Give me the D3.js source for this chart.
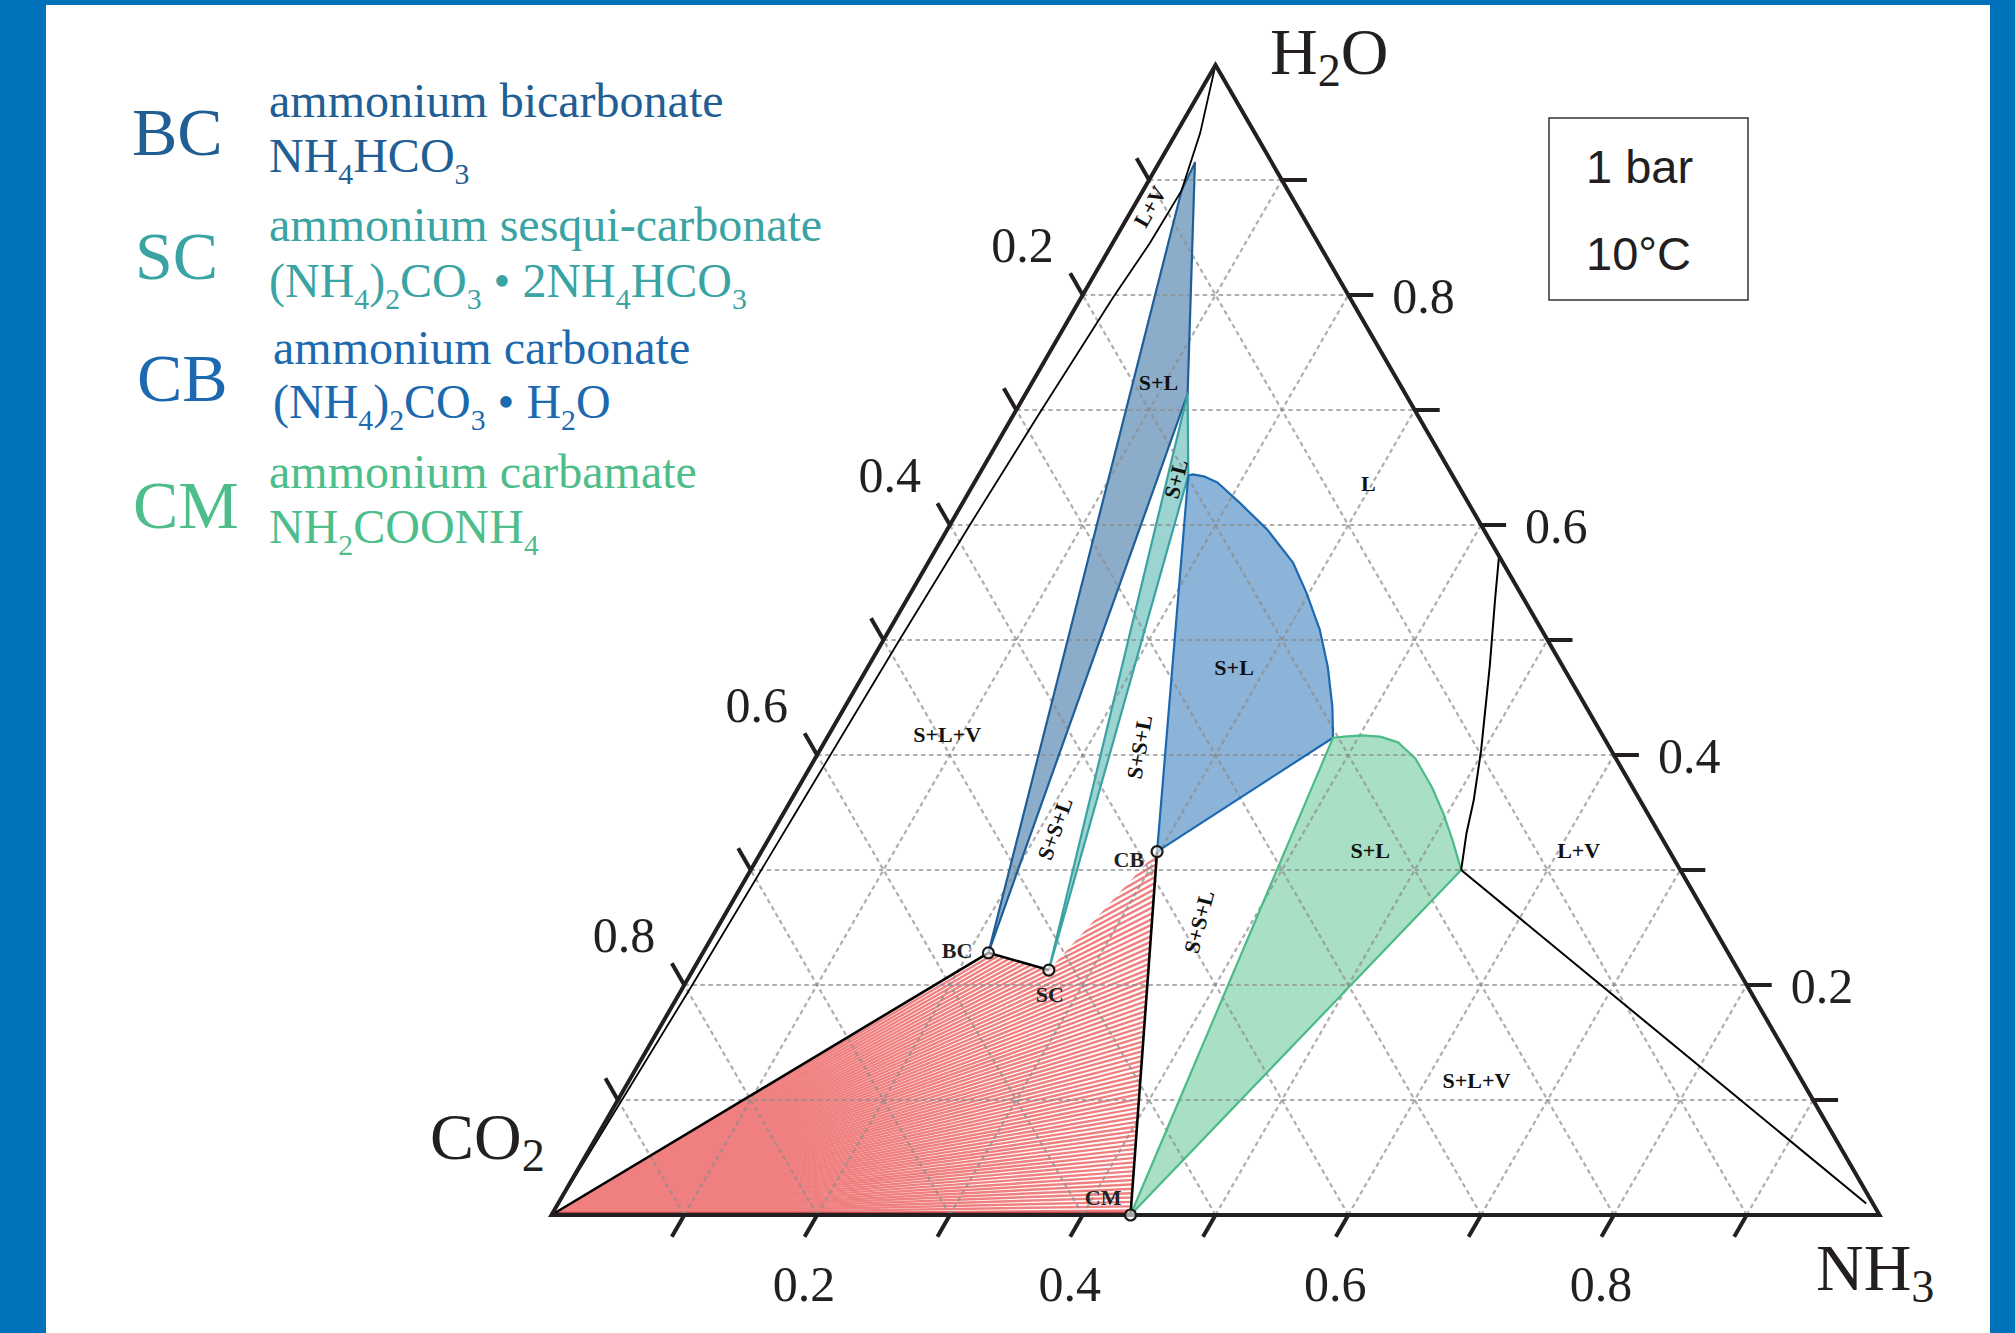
<!DOCTYPE html>
<html>
<head>
<meta charset="utf-8">
<script src="https://cdn.jsdelivr.net/npm/d3@7"></script>
<style>
    body { margin: 0; background: #fff; }
    svg { display: block; }
</style>
</head>
<body>
<div id="chart"></div>
<script>
// all compositions are mass fractions, as [NH3, H2O] (CO2 = 1 - NH3 - H2O)
var compoundNames = ["BC", "SC", "CB", "CM"];
var compoundNH3 = [0.215, 0.268, 0.298, 0.436];
var compoundH2O = [0.228, 0.213, 0.316, 0.000];

var bcRegion = [[0.215, 0.228], [0.029, 0.891], [0.027, 0.915], [0.122, 0.714]];
var scRegion = [[0.268, 0.213], [0.122, 0.714], [0.158, 0.643]];
var cbRegion = [[0.298, 0.316], [0.158, 0.643], [0.161, 0.644], [0.171, 0.642], [0.183, 0.637],
    [0.209, 0.619], [0.241, 0.596], [0.275, 0.567], [0.298, 0.541], [0.324, 0.509],
    [0.346, 0.477], [0.367, 0.442], [0.381, 0.415]];
var cmRegion = [[0.436, 0.000], [0.381, 0.415], [0.389, 0.416], [0.402, 0.417], [0.416, 0.416],
    [0.432, 0.411], [0.452, 0.397], [0.477, 0.372], [0.498, 0.348], [0.517, 0.324], [0.535, 0.300]];
var solidRegion = [[0, 0], [0.215, 0.228], [0.268, 0.213], [0.298, 0.316], [0.436, 0]];

var lvLeft = [[0, 1], [0.018, 0.941], [0.029, 0.891], [0.028, 0.845], [0.024, 0.798], [0.019, 0.70],
    [0.015, 0.60], [0.012, 0.50], [0.009, 0.35], [0.006, 0.20], [0.003, 0.10], [0, 0]];
var lvRight = [[0.535, 0.300], [0.523, 0.332], [0.514, 0.361], [0.498, 0.404], [0.468, 0.477],
    [0.443, 0.535], [0.427, 0.573]];
var vapourLine = [[0.535, 0.300], [0.985, 0.010]];
var tieLines = [
    [[0, 0], [0.215, 0.228]],
    [[0.215, 0.228], [0.268, 0.213]],
    [[0.298, 0.316], [0.436, 0.000]]
];

var gridValues = [0.1, 0.2, 0.3, 0.4, 0.5, 0.6, 0.7, 0.8, 0.9];
var tickLabels = [0.2, 0.4, 0.6, 0.8];

var regionLabels = ["L+V", "S+L", "S+L", "L", "S+L", "S+L+V", "S+S+L", "S+S+L", "S+S+L", "S+L", "L+V", "S+L+V"];
var regionLabelNH3 = [0.012, 0.095, 0.150, 0.297, 0.276, 0.089, 0.211, 0.239, 0.360, 0.458, 0.615, 0.638];
var regionLabelH2O = [0.877, 0.724, 0.640, 0.636, 0.476, 0.418, 0.336, 0.407, 0.255, 0.317, 0.317, 0.117];
var regionLabelAngle = [-60, 0, -75, 0, 0, 0, -70, -80, -75, 0, 0, 0];

var legendCodes = ["BC", "SC", "CB", "CM"];
var legendNames = ["ammonium bicarbonate", "ammonium sesqui-carbonate", "ammonium carbonate", "ammonium carbamate"];
var legendFormulas = ["NH_4HCO_3", "(NH_4)_2CO_3 \u2022 2NH_4HCO_3", "(NH_4)_2CO_3 \u2022 H_2O", "NH_2COONH_4"];

// ---- styles / layout
var W = 2015, H = 1333;
var ink = "#231f20";
var frameBlue = "#0071bb";
var legendColors = ["#215e93", "#3aa3a4", "#1d69af", "#4dbd89"];
var legendPos = [
    {code: [132, 155], x: 269, l1: 117, l2: 172},
    {code: [135, 279], x: 269, l1: 241, l2: 297},
    {code: [137, 401], x: 273, l1: 364, l2: 418},
    {code: [133, 528], x: 269, l1: 488, l2: 543}
];
var compoundLabelOffset = [
    {dx: -16, dy: 5, anchor: "end"},
    {dx: 1, dy: 32, anchor: "middle"},
    {dx: -13, dy: 15, anchor: "end"},
    {dx: -9, dy: -10, anchor: "end"}
];

var svg = d3.select("#chart").append("svg")
    .attr("width", W)
    .attr("height", H);

svg.append("rect").attr("width", W).attr("height", H).attr("fill", "#fff");
svg.append("rect").attr("x", 0).attr("y", 0).attr("width", 46).attr("height", H).attr("fill", frameBlue);
svg.append("rect").attr("x", 0).attr("y", 0).attr("width", W).attr("height", 5).attr("fill", frameBlue);
svg.append("rect").attr("x", 1990).attr("y", 0).attr("width", W - 1990).attr("height", H).attr("fill", frameBlue);

// ternary projection: bottom axis NH3, right axis H2O, left axis CO2
var x = d3.scaleLinear().domain([0, 1]).range([551.5, 1879.5]);
var y = d3.scaleLinear().domain([0, 1]).range([1215, 65]);

function px(d) {
    return [x(d[0] + d[1] / 2), y(d[1])];
}

var line = d3.line()
    .x(function (d) { return px(d)[0]; })
    .y(function (d) { return px(d)[1]; });

function closed(pts) {
    return line(pts) + "Z";
}

// sub-script helper: "_4" means a lowered, smaller 4
function formula(sel, str, size, subScale, shift) {
    var parts = str.split(/(_\d)/);
    var lowered = false;
    parts.forEach(function (p) {
        if (!p) return;
        if (p[0] === "_") {
            sel.append("tspan")
                .attr("font-size", size * subScale)
                .attr("dy", lowered ? 0 : shift)
                .text(p.slice(1));
            lowered = true;
        } else {
            sel.append("tspan")
                .attr("dy", lowered ? -shift : 0)
                .text(p);
            lowered = false;
        }
    });
}

// ---- red fan hatching of the solid (S+S+V) area
svg.append("clipPath").attr("id", "solidClip")
    .append("path").attr("d", closed(solidRegion));

var corner = px([0, 0]);
var bcPt = px([compoundNH3[0], compoundH2O[0]]);
var maxAngle = Math.atan2(corner[1] - bcPt[1], bcPt[0] - corner[0]);
var nFan = 72;
var fan = svg.append("g").attr("clip-path", "url(#solidClip)");
for (var i = 0; i <= nFan; i++) {
    var a = maxAngle * i / nFan;
    fan.append("line")
        .attr("x1", corner[0])
        .attr("y1", corner[1])
        .attr("x2", corner[0] + 900 * Math.cos(a))
        .attr("y2", corner[1] - 900 * Math.sin(a))
        .attr("stroke", "#f08080")
        .attr("stroke-width", 2.4);
}
svg.append("line")
    .attr("x1", corner[0]).attr("y1", corner[1] - 2.5)
    .attr("x2", px([0.436, 0])[0]).attr("y2", corner[1] - 2.5)
    .attr("stroke", "#b94848").attr("stroke-width", 1.5);

// ---- phase region fills
var regions = [
    {pts: bcRegion, fill: "#8badc9", stroke: "#1f5e98"},
    {pts: scRegion, fill: "#9cd4d2", stroke: "#3aa2a2"},
    {pts: cbRegion, fill: "#8cb3d8", stroke: "#1b69b0"},
    {pts: cmRegion, fill: "#a8dfc5", stroke: "#4cbb87"}
];

svg.selectAll(".regionFill")
    .data(regions)
    .enter()
    .append("path")
    .attr("class", "regionFill")
    .attr("d", function (d) { return closed(d.pts); })
    .attr("fill", function (d) { return d.fill; });

// ---- dotted grid
var grid = svg.append("g")
    .attr("stroke", "#8c8c8c")
    .attr("stroke-opacity", 0.7)
    .attr("stroke-width", 2.2)
    .attr("stroke-dasharray", "4.5 3.5");
gridValues.forEach(function (v) {
    // constant H2O
    grid.append("path").attr("d", line([[0, v], [1 - v, v]]));
    // constant NH3
    grid.append("path").attr("d", line([[v, 0], [v, 1 - v]]));
    // constant CO2
    grid.append("path").attr("d", line([[1 - v, 0], [0, 1 - v]]));
});

svg.selectAll(".regionEdge")
    .data(regions)
    .enter()
    .append("path")
    .attr("class", "regionEdge")
    .attr("d", function (d) { return closed(d.pts); })
    .attr("fill", "none")
    .attr("stroke", function (d) { return d.stroke; })
    .attr("stroke-width", 2.2)
    .attr("stroke-linejoin", "round");

// ---- black phase boundaries
var bounds = svg.append("g").attr("fill", "none").attr("stroke", "#000");
bounds.append("path").attr("d", line(lvLeft)).attr("stroke-width", 1.8);
bounds.append("path").attr("d", line(lvRight)).attr("stroke-width", 2);
bounds.append("path").attr("d", line(vapourLine)).attr("stroke-width", 2);
tieLines.forEach(function (t) {
    bounds.append("path").attr("d", line(t)).attr("stroke-width", 2.6);
});

// ---- triangle and ticks
svg.append("path")
    .attr("d", closed([[0, 0], [1, 0], [0, 1]]))
    .attr("fill", "none")
    .attr("stroke", ink)
    .attr("stroke-width", 4)
    .attr("stroke-linejoin", "miter");

var tickLen = 25;
var ticks = svg.append("g").attr("stroke", ink).attr("stroke-width", 4);
gridValues.forEach(function (v) {
    var b = px([v, 0]);
    ticks.append("line")
        .attr("x1", b[0]).attr("y1", b[1])
        .attr("x2", b[0] - 0.5 * tickLen).attr("y2", b[1] + 0.866 * tickLen);
    var r = px([1 - v, v]);
    ticks.append("line")
        .attr("x1", r[0]).attr("y1", r[1])
        .attr("x2", r[0] + tickLen).attr("y2", r[1]);
    var l = px([0, 1 - v]);
    ticks.append("line")
        .attr("x1", l[0]).attr("y1", l[1])
        .attr("x2", l[0] - 0.5 * tickLen).attr("y2", l[1] - 0.866 * tickLen);
});

var axisText = svg.append("g")
    .attr("font-family", "'Liberation Serif', 'Times New Roman', serif")
    .attr("font-size", 50)
    .attr("fill", ink);
tickLabels.forEach(function (v) {
    var b = px([v, 0]);
    axisText.append("text")
        .attr("x", b[0] - 13).attr("y", b[1] + 86)
        .attr("text-anchor", "middle")
        .text(v.toFixed(1));
    var r = px([1 - v, v]);
    axisText.append("text")
        .attr("x", r[0] + 44).attr("y", r[1] + 18)
        .attr("text-anchor", "start")
        .text(v.toFixed(1));
    var l = px([0, 1 - v]);
    axisText.append("text")
        .attr("x", l[0] - 29).attr("y", l[1] - 33)
        .attr("text-anchor", "end")
        .text(v.toFixed(1));
});

// corner labels
var cornerText = svg.append("g")
    .attr("font-family", "'Liberation Serif', 'Times New Roman', serif")
    .attr("font-size", 66)
    .attr("fill", ink);
formula(cornerText.append("text").attr("x", 1270).attr("y", 74), "H_2O", 66, 0.7, 12);
formula(cornerText.append("text").attr("x", 430).attr("y", 1159), "CO_2", 66, 0.7, 12);
formula(cornerText.append("text").attr("x", 1816).attr("y", 1290), "NH_3", 66, 0.7, 12);

// ---- compound points
var compounds = compoundNames.map(function (name, i) {
    return {name: name, p: px([compoundNH3[i], compoundH2O[i]]), off: compoundLabelOffset[i]};
});

svg.selectAll(".compound")
    .data(compounds)
    .enter()
    .append("circle")
    .attr("class", "compound")
    .attr("cx", function (d) { return d.p[0]; })
    .attr("cy", function (d) { return d.p[1]; })
    .attr("r", 5.5)
    .attr("fill", "#fff")
    .attr("fill-opacity", 0.6)
    .attr("stroke", "#1a1a1a")
    .attr("stroke-width", 2.2);

var labelFont = "'Liberation Serif', 'Times New Roman', serif";
svg.selectAll(".compoundLabel")
    .data(compounds)
    .enter()
    .append("text")
    .attr("class", "compoundLabel")
    .attr("x", function (d) { return d.p[0] + d.off.dx; })
    .attr("y", function (d) { return d.p[1] + d.off.dy; })
    .attr("text-anchor", function (d) { return d.off.anchor; })
    .attr("font-family", labelFont)
    .attr("font-weight", "bold")
    .attr("font-size", 22)
    .attr("fill", "#222")
    .text(function (d) { return d.name; });

// region labels
regionLabels.forEach(function (t, i) {
    var p = px([regionLabelNH3[i], regionLabelH2O[i]]);
    svg.append("text")
        .attr("transform", "translate(" + p[0] + "," + p[1] + ") rotate(" + regionLabelAngle[i] + ")")
        .attr("text-anchor", "middle")
        .attr("dy", "0.35em")
        .attr("font-family", labelFont)
        .attr("font-weight", "bold")
        .attr("font-size", 22)
        .attr("fill", "#111")
        .text(t);
});

// ---- pressure / temperature box
svg.append("rect")
    .attr("x", 1549).attr("y", 118)
    .attr("width", 199).attr("height", 182)
    .attr("fill", "#fff")
    .attr("stroke", "#333")
    .attr("stroke-width", 1.5);
var box = svg.append("g")
    .attr("font-family", "'Liberation Sans', Arial, sans-serif")
    .attr("font-size", 47)
    .attr("fill", ink);
box.append("text").attr("x", 1586).attr("y", 183).text("1 bar");
box.append("text").attr("x", 1586).attr("y", 270).text("10\u00b0C");

// ---- legend
var legend = svg.append("g").attr("font-family", "'Liberation Serif', 'Times New Roman', serif");
legendCodes.forEach(function (code, i) {
    var pos = legendPos[i];
    legend.append("text")
        .attr("x", pos.code[0]).attr("y", pos.code[1])
        .attr("font-size", 68)
        .attr("fill", legendColors[i])
        .text(code);
    legend.append("text")
        .attr("x", pos.x).attr("y", pos.l1)
        .attr("font-size", 48)
        .attr("fill", legendColors[i])
        .text(legendNames[i]);
    var f = legend.append("text")
        .attr("x", pos.x).attr("y", pos.l2)
        .attr("font-size", 48)
        .attr("fill", legendColors[i]);
    formula(f, legendFormulas[i], 48, 0.62, 12);
});
</script>
</body>
</html>
